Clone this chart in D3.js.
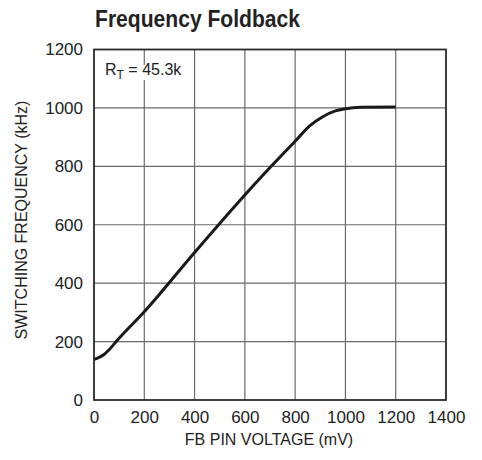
<!DOCTYPE html>
<html><head><meta charset="utf-8">
<script src="https://cdn.jsdelivr.net/npm/d3@7/dist/d3.min.js"></script>
<style>body{margin:0;background:#fff}svg{display:block}</style>
</head><body>
<svg id="c" width="482" height="460"></svg>
<script>
const voltage = [0, 20, 40, 60, 90, 200, 400, 600, 700, 800, 860, 910, 960, 1000, 1060, 1200];
const frequency = [139, 146, 156, 172, 202, 302, 505, 702, 796, 886, 940, 970, 990, 997, 1002, 1003];
const xTicks = [0, 200, 400, 600, 800, 1000, 1200, 1400];
const yTicks = [0, 200, 400, 600, 800, 1000, 1200];
const title = "Frequency Foldback";
const xLabel = "FB PIN VOLTAGE (mV)";
const yLabel = "SWITCHING FREQUENCY (kHz)";

const font = "'Liberation Sans',Arial,sans-serif";
const svg = d3.select("#c");
const m = {l: 94, r: 446, t: 49.5, b: 400};
const x = d3.scaleLinear().domain([0, 1400]).range([m.l, m.r]);
const y = d3.scaleLinear().domain([0, 1200]).range([m.b, m.t]);

// grid
svg.append("g").selectAll("line").data(xTicks.slice(1, -1)).join("line")
  .attr("x1", d => x(d)).attr("x2", d => x(d)).attr("y1", m.t).attr("y2", m.b)
  .attr("stroke", "#6a6a6a").attr("stroke-width", 1.2);
svg.append("g").selectAll("line").data(yTicks.slice(1, -1)).join("line")
  .attr("y1", d => y(d)).attr("y2", d => y(d)).attr("x1", m.l).attr("x2", m.r)
  .attr("stroke", "#6a6a6a").attr("stroke-width", 1.2);

// frame
svg.append("rect").attr("x", m.l).attr("y", m.t).attr("width", m.r - m.l).attr("height", m.b - m.t)
  .attr("fill", "none").attr("stroke", "#2a2a2a").attr("stroke-width", 1.8);

// axes labels via d3 axes
const xAxis = svg.append("g").attr("transform", `translate(0,${m.b})`)
  .call(d3.axisBottom(x).tickValues(xTicks).tickFormat(d3.format("d")).tickSize(0).tickPadding(11));
const yAxis = svg.append("g").attr("transform", `translate(${m.l},0)`)
  .call(d3.axisLeft(y).tickValues(yTicks).tickFormat(d3.format("d")).tickSize(0).tickPadding(11));
[xAxis, yAxis].forEach(a => {
  a.select(".domain").remove();
  a.selectAll("text").attr("font-family", font).attr("font-size", 17).attr("fill", "#222");
});

// label box
const bg = svg.append("rect").attr("fill", "#fff");
const lbl = svg.append("text").attr("x", 105).attr("y", 75)
  .attr("font-family", font).attr("font-size", 16).attr("fill", "#222");
lbl.append("tspan").text("R");
lbl.append("tspan").attr("font-size", 12).attr("dy", 4).text("T");
lbl.append("tspan").attr("dy", -4).text(" = 45.3k");
const bb = lbl.node().getBBox();
bg.attr("x", bb.x - 2).attr("y", bb.y + 4).attr("width", bb.width + 3).attr("height", bb.height - 6);

// curve
const pts = voltage.map((v, i) => [v, frequency[i]]);
svg.append("path").datum(pts)
  .attr("d", d3.line().x(d => x(d[0])).y(d => y(d[1])).curve(d3.curveMonotoneX))
  .attr("fill", "none").attr("stroke", "#1a1a1a").attr("stroke-width", 3).attr("stroke-linecap", "butt");

// titles
svg.append("text").attr("x", 95).attr("y", 27).text(title)
  .attr("textLength", 205).attr("lengthAdjust", "spacingAndGlyphs")
  .attr("font-family", font).attr("font-weight", "bold").attr("font-size", 24).attr("fill", "#222");
svg.append("text").attr("x", 269).attr("y", 445).attr("text-anchor", "middle").text(xLabel)
  .attr("font-family", font).attr("font-size", 16).attr("fill", "#222");
svg.append("text").attr("transform", `translate(27,220) rotate(-90)`).attr("text-anchor", "middle").text(yLabel)
  .attr("font-family", font).attr("font-size", 16).attr("fill", "#222");
</script>
</body></html>
